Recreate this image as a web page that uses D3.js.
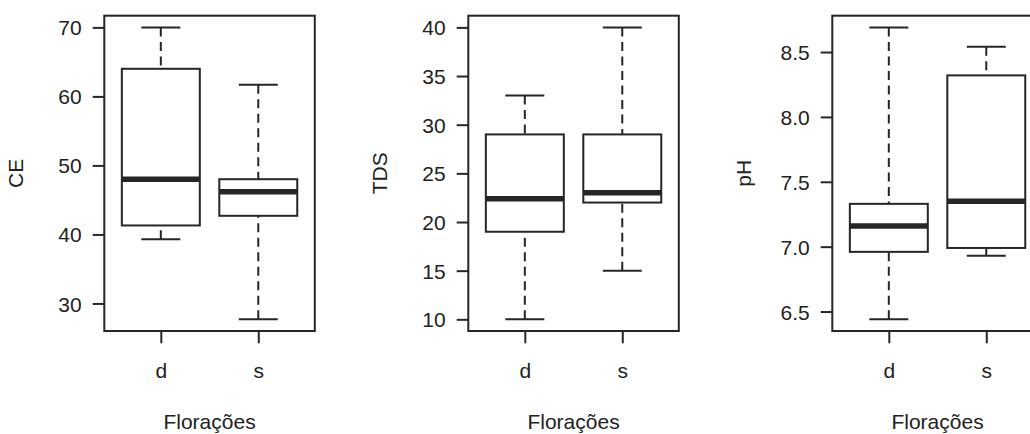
<!DOCTYPE html>
<html>
<head>
<meta charset="utf-8">
<script src="https://cdn.jsdelivr.net/npm/d3@7"></script>
<style>
  html, body { margin: 0; padding: 0; background: #ffffff; }
  svg { display: block; }
  text { font-family: "Liberation Sans", Arial, Helvetica, sans-serif; fill: #222; }
</style>
</head>
<body>
<svg id="chart" width="1030" height="434"></svg>
<script>
// Groups on the x axis
const categories = ["d", "s"];
const xTitle = "Florações";

// Five-number summaries per group: [lower whisker, Q1, median, Q3, upper whisker]
const ceStats  = [[39.3, 41.3, 48.0, 64.0, 70.0], [27.7, 42.7, 46.2, 48.0, 61.7]];
const tdsStats = [[10.0, 19.0, 22.4, 29.0, 33.0], [15.0, 22.0, 23.0, 29.0, 40.0]];
const phStats  = [[6.44, 6.96, 7.16, 7.33, 8.69], [6.93, 6.99, 7.35, 8.32, 8.54]];

// Tick values for each y axis
const ceTicks  = [30, 40, 50, 60, 70];
const tdsTicks = [10, 15, 20, 25, 30, 35, 40];
const phTicks  = [6.5, 7.0, 7.5, 8.0, 8.5];

const panels = [
  { label: "CE",  stats: ceStats,  ticks: ceTicks,  fmt: d3.format("d") },
  { label: "TDS", stats: tdsStats, ticks: tdsTicks, fmt: d3.format("d") },
  { label: "pH",  stats: phStats,  ticks: phTicks,  fmt: d3.format(".1f") }
];

const svg = d3.select("#chart");
const ink = "#262626";
const panelStep = 364;
const frame = { left: 104.3, width: 210.5, top: 15.7, bottom: 331 };
const fontSize = 21;

panels.forEach((p, i) => {
  const g = svg.append("g").attr("transform", `translate(${panelStep * i},0)`);

  // x: positions 1..n with R-style padding (0.5 each side, then 4%)
  const n = categories.length;
  const x0 = 0.5, x1 = n + 0.5, xp = (x1 - x0) * 0.04;
  const x = d3.scaleLinear()
    .domain([x0 - xp, x1 + xp])
    .range([frame.left, frame.left + frame.width]);

  // y: data extent padded by 4%
  const lo = d3.min(p.stats, s => s[0]);
  const hi = d3.max(p.stats, s => s[4]);
  const yp = (hi - lo) * 0.04;
  const y = d3.scaleLinear()
    .domain([lo - yp, hi + yp])
    .range([frame.bottom, frame.top]);

  const boxW = x(1.4) - x(1);   // half of 0.8 box width
  const capW = boxW / 2;

  // boxes
  p.stats.forEach((s, j) => {
    const cx = x(j + 1);
    const bg = g.append("g");
    // dashed whiskers, drawn from the whisker end toward the box
    bg.append("line")
      .attr("x1", cx).attr("x2", cx)
      .attr("y1", y(s[0])).attr("y2", y(s[1]))
      .attr("stroke", ink).attr("stroke-width", 2)
      .attr("stroke-dasharray", "9 5.5");
    bg.append("line")
      .attr("x1", cx).attr("x2", cx)
      .attr("y1", y(s[4])).attr("y2", y(s[3]))
      .attr("stroke", ink).attr("stroke-width", 2)
      .attr("stroke-dasharray", "9 5.5");
    // staples
    [s[0], s[4]].forEach(v => {
      bg.append("line")
        .attr("x1", cx - capW).attr("x2", cx + capW)
        .attr("y1", y(v)).attr("y2", y(v))
        .attr("stroke", ink).attr("stroke-width", 2);
    });
    // box
    bg.append("rect")
      .attr("x", cx - boxW).attr("width", 2 * boxW)
      .attr("y", y(s[3])).attr("height", y(s[1]) - y(s[3]))
      .attr("fill", "none").attr("stroke", ink).attr("stroke-width", 2);
    // median
    bg.append("line")
      .attr("x1", cx - boxW).attr("x2", cx + boxW)
      .attr("y1", y(s[2])).attr("y2", y(s[2]))
      .attr("stroke", ink).attr("stroke-width", 5.5);
  });

  // plot frame
  g.append("rect")
    .attr("x", frame.left).attr("y", frame.top)
    .attr("width", frame.width).attr("height", frame.bottom - frame.top)
    .attr("fill", "none").attr("stroke", ink).attr("stroke-width", 2);

  // y axis
  const ya = g.append("g")
    .attr("transform", `translate(${frame.left},0)`)
    .call(d3.axisLeft(y).tickValues(p.ticks).tickFormat(p.fmt).tickSize(11.6).tickPadding(11));
  ya.select(".domain").remove();
  ya.selectAll(".tick line").attr("stroke", ink).attr("stroke-width", 2);
  ya.selectAll(".tick text")
    .attr("font-size", fontSize).attr("font-family", null).attr("fill", "#222")
    .attr("dy", "0.36em");

  // x axis
  const xa = g.append("g")
    .attr("transform", `translate(0,${frame.bottom})`)
    .call(d3.axisBottom(x).tickValues(d3.range(1, n + 1)).tickFormat(k => categories[k - 1]).tickSize(12.3));
  xa.select(".domain").remove();
  xa.selectAll(".tick line").attr("stroke", ink).attr("stroke-width", 2);
  xa.selectAll(".tick text")
    .attr("font-size", fontSize).attr("font-family", null).attr("fill", "#222")
    .attr("y", 47).attr("dy", null);

  // axis titles
  g.append("text")
    .attr("x", frame.left + frame.width / 2).attr("y", 429)
    .attr("text-anchor", "middle").attr("font-size", fontSize)
    .text(xTitle);
  g.append("text")
    .attr("transform", `translate(${frame.left - 81},${(frame.top + frame.bottom) / 2}) rotate(-90)`)
    .attr("text-anchor", "middle").attr("font-size", fontSize)
    .text(p.label);
});
</script>
</body>
</html>
